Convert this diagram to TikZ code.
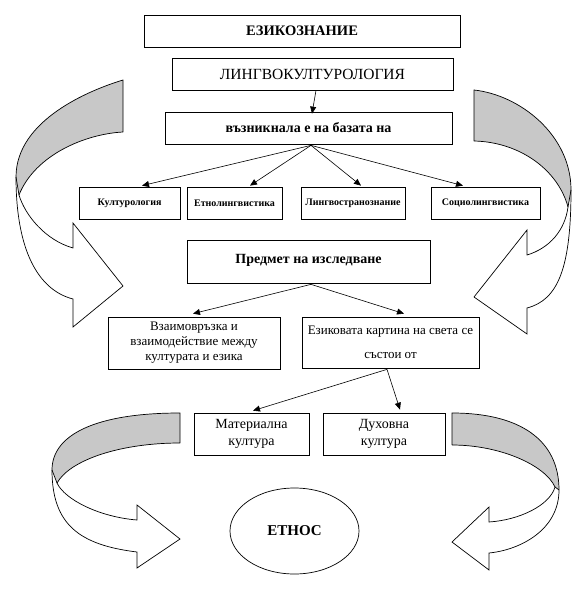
\documentclass[tikz,border=0pt]{standalone}
\usepackage{fontspec}
\setmainfont{Liberation Serif}
\usetikzlibrary{arrows.meta,shapes.geometric}
\definecolor{bandgray}{RGB}{200,200,200}
\begin{document}
\begin{tikzpicture}[x=1pt,y=-1pt,
  box/.style={draw,line width=0.7pt,rectangle,inner sep=0pt,align=center},
  small/.style={box,minimum height=32pt,font=\fontsize{10}{12}\selectfont\bfseries},
  conn/.style={line width=0.6pt,-{Triangle[length=7pt,width=6pt]}},
  band/.style={line width=0.7pt,line join=miter},
  bandfill/.style={fill=bandgray}]
\useasboundingbox[fill=white] (0,0) rectangle (584,599);

% ---------- boxes ----------
\node[box,minimum width=316pt,minimum height=32pt,font=\fontsize{14.5}{17}\selectfont\bfseries] (ez) at (302,31) {\raisebox{1.5pt}{ЕЗИКОЗНАНИЕ}};
\node[box,minimum width=281pt,minimum height=32pt,font=\fontsize{15.5}{18}\selectfont] (lk) at (312.5,74) {ЛИНГВОКУЛТУРОЛОГИЯ};
\node[box,minimum width=287pt,minimum height=32pt,font=\fontsize{14}{17}\selectfont\bfseries] (vz) at (308.5,128) {възникнала е на базата на};

\node[small,minimum width=101pt] (k1) at (129.5,203) {Културология};
\node[small,minimum width=95pt]  (k2) at (234.5,203) {Етнолингвистика};
\node[small,minimum width=104pt] (k3) at (353,203) {Лингвостранознание};
\node[small,minimum width=109pt] (k4) at (485.5,203) {Социолингвистика};

\node[box,minimum width=243pt,minimum height=43pt,font=\fontsize{14}{17}\selectfont\bfseries] (pr) at (308.5,261.5) {\raisebox{5pt}{Предмет на изследване}};

\node[box,minimum width=172pt,minimum height=52pt,font=\fontsize{13}{15}\selectfont] (b1) at (194,343) {Взаимовръзка и\\взаимодействие между\\културата и езика};
\node[box,minimum width=177pt,minimum height=51pt,font=\fontsize{13}{15}\selectfont] (b2) at (390.5,342.5) {Езиковата картина на света се\\[9pt]състои от};

\node[box,minimum width=115pt,minimum height=42pt,font=\fontsize{14}{16.5}\selectfont] (m1) at (251.5,434) {Материална\\култура};
\node[box,minimum width=122pt,minimum height=42pt,font=\fontsize{14}{16.5}\selectfont] (m2) at (384,434) {Духовна\\култура};

\node[draw,line width=0.7pt,ellipse,inner sep=0pt,minimum width=129pt,minimum height=86pt,font=\fontsize{15}{18}\selectfont\bfseries] (et) at (294.5,531) {ЕТНОС};

% ---------- connectors ----------
\draw[conn] ([xshift=3.5pt]lk.south) -- ([xshift=3.5pt,yshift=-2pt]vz.north);
\draw[conn] ([xshift=2.5pt,yshift=-1pt]vz.south) -- ([xshift=12.5pt,yshift=1pt]k1.north);
\draw[conn] ([xshift=2.5pt,yshift=-1pt]vz.south) -- ([xshift=15.5pt,yshift=1pt]k2.north);
\draw[conn] ([xshift=2.5pt,yshift=-1pt]vz.south) -- ([xshift=8pt,yshift=1pt]k3.north);
\draw[conn] ([xshift=2.5pt,yshift=-1pt]vz.south) -- ([xshift=-22.5pt,yshift=1pt]k4.north);

\draw[conn] ([xshift=2.5pt,yshift=-1pt]pr.south) -- ([xshift=-1pt,yshift=3pt]b1.north);
\draw[conn] ([xshift=2.5pt,yshift=-1pt]pr.south) -- ([xshift=13.5pt,yshift=3pt]b2.north);

\draw[conn] ([xshift=-3.5pt,yshift=-1pt]b2.south) -- ([xshift=1.5pt,yshift=2pt]m1.north);
\draw[conn] ([xshift=-3.5pt,yshift=-1pt]b2.south) -- ([xshift=16pt,yshift=3pt]m2.north);

% ---------- curved arrows ----------
% top left
\path[bandfill] (123,80) .. controls (90,90) and (16,120) .. (16,177) -- (19,195)
  .. controls (35,155) and (85,134) .. (123,132) -- cycle;
\draw[band] (123,132) -- (123,80) .. controls (90,90) and (16,120) .. (16,177)
  .. controls (16,250) and (38,290) .. (73,299) -- (73,327) -- (123,286) -- (73,223) -- (73,248)
  .. controls (45,240) and (25,215) .. (19,195) .. controls (35,155) and (85,134) .. (123,132);
\draw[band] (16,177) -- (19,195);

% top right
\path[bandfill] (474,90) .. controls (520,95) and (571,135) .. (571,190) -- (568,207)
  .. controls (558,170) and (520,142) .. (474,141) -- cycle;
\draw[band] (474,141) -- (474,90) .. controls (520,95) and (571,135) .. (571,190)
  .. controls (571,268) and (558,300) .. (527,308) -- (527,334) -- (474,297) -- (527,230) -- (527,255)
  .. controls (550,248) and (565,230) .. (568,207) .. controls (558,170) and (520,142) .. (474,141);
\draw[band] (571,190) -- (568,207);

% bottom left
\path[bandfill] (180,413) .. controls (95,413) and (52,435) .. (52,470) -- (57,483)
  .. controls (70,460) and (120,443) .. (180,443) -- cycle;
\draw[band] (180,443) -- (180,413) .. controls (95,413) and (52,435) .. (52,470)
  .. controls (52,525) and (80,545) .. (137,552) -- (137,568) -- (180,539) -- (137,505) -- (137,520)
  .. controls (100,517) and (65,500) .. (57,483) .. controls (70,460) and (120,443) .. (180,443);
\draw[band] (52,470) -- (57,483);

% bottom right
\path[bandfill] (452,413) .. controls (520,413) and (559,440) .. (559,490) -- (555,487)
  .. controls (545,465) and (500,445) .. (452,445) -- cycle;
\draw[band] (452,445) -- (452,413) .. controls (520,413) and (559,440) .. (559,490)
  .. controls (559,530) and (520,550) .. (489,553) -- (489,570) -- (452,542) -- (489,507) -- (489,522)
  .. controls (520,520) and (550,505) .. (555,487) .. controls (545,465) and (500,445) .. (452,445);
\draw[band] (559,490) -- (555,487);
\end{tikzpicture}
\end{document}
